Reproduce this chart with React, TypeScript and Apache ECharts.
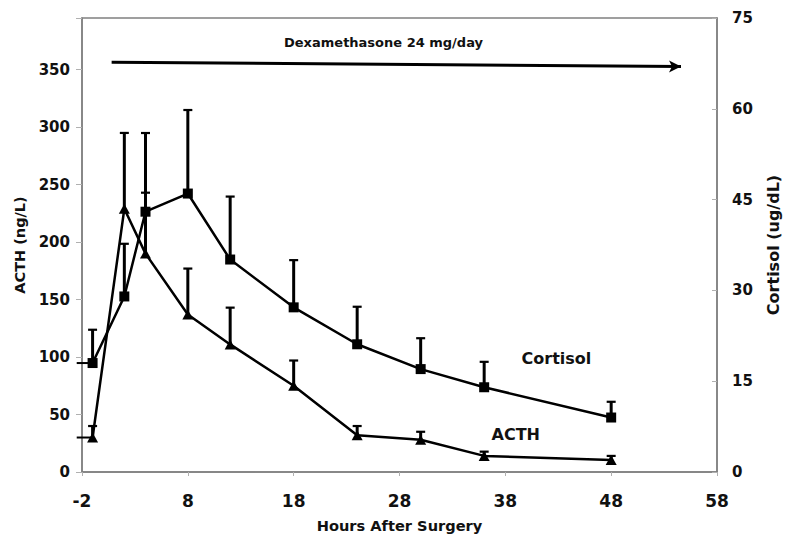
import React, { useEffect, useRef } from "react";
import * as echarts from "echarts";

const hours = [-1, 2, 4, 8, 12, 18, 24, 30, 36, 48];
const acth = [30, 229, 190, 137, 111, 75, 32, 28, 14, 10.5];
const acthUpper = [40, 295, 243, 177, 143, 97, 40, 35, 17.7, 14];
const cortisol = [18, 29, 43, 46, 35.1, 27.2, 21.1, 17, 14, 9];
const cortisolUpper = [23.5, 37.7, 56, 59.8, 45.5, 35, 27.3, 22.1, 18.2, 11.6];
// leftward horizontal segment drawn from the baseline point (hours)
const acthLead = [1.5, 0, 0, 0, 0, 0, 0, 0, 0, 0];
const cortisolLead = [1.5, 0, 0, 0, 0, 0, 0, 0, 0, 0];

const xTicks = { min: -2, max: 58, interval: 10 };
const leftTicks = { min: 0, max: 395, interval: 50 };
const rightTicks = { min: 0, max: 75, interval: 15 };
const arrowStart = [0.8, 356.5];
const arrowEnd = [54.6, 352.8];

const FONT = "DejaVu Sans";

function errRender(params: any, api: any) {
  const x = api.value(0);
  const v = api.value(1);
  const top = api.value(2);
  const lead = api.value(3);
  const p = api.coord([x, v]);
  const t = api.coord([x, top]);
  const children: any[] = [
    { type: "line", shape: { x1: p[0], y1: p[1], x2: t[0], y2: t[1] }, style: { stroke: "#000", lineWidth: 3 } },
    { type: "line", shape: { x1: t[0] - 4.5, y1: t[1], x2: t[0] + 4.5, y2: t[1] }, style: { stroke: "#000", lineWidth: 2.2 } },
  ];
  if (lead) {
    const l = api.coord([x - lead, v]);
    children.push({ type: "line", shape: { x1: l[0], y1: l[1], x2: p[0], y2: p[1] }, style: { stroke: "#000", lineWidth: 2 } });
  }
  return { type: "group", children };
}

export default function App() {
  const ref = useRef<HTMLDivElement>(null);
  useEffect(() => {
    document.body.style.margin = "0";
    const chart = echarts.init(ref.current!, null, { renderer: "svg" });
    const axisLine = { show: true, onZero: false, lineStyle: { color: "#808080", width: 1.5 } };
    const tick = { show: true, length: 5, lineStyle: { color: "#b0b0b0", width: 1 } };
    chart.setOption({
      animation: false,
      backgroundColor: "#fff",
      title: {
        text: "Dexamethasone 24 mg/day",
        left: 284,
        top: 36,
        padding: 0,
        textStyle: { fontFamily: FONT, fontWeight: "bold", fontSize: 13, color: "#111" },
      },
      grid: { left: 82, right: 77, top: 18, bottom: 69, show: true, borderColor: "#808080", borderWidth: 1.5 },
      xAxis: {
        type: "value",
        ...xTicks,
        name: "Hours After Surgery",
        nameLocation: "middle",
        nameGap: 46,
        nameTextStyle: { fontFamily: FONT, fontWeight: "bold", fontSize: 14.6, color: "#111" },
        axisLine,
        axisTick: { ...tick, length: 4 },
        splitLine: { show: false },
        axisLabel: { fontFamily: FONT, fontWeight: "bold", fontSize: 17, color: "#111", margin: 20 },
      },
      yAxis: [
        {
          type: "value",
          ...leftTicks,
          name: "ACTH (ng/L)",
          nameLocation: "middle",
          nameRotate: 90,
          nameGap: 52,
          nameTextStyle: { fontFamily: FONT, fontWeight: "bold", fontSize: 14.5, color: "#111" },
          axisLine,
          axisTick: { ...tick, length: 6 },
          splitLine: { show: false },
          axisLabel: {
            fontFamily: FONT,
            fontWeight: "bold",
            fontSize: 15,
            color: "#111",
            margin: 12,
            formatter: (v: number) => (v % 50 === 0 ? String(v) : ""),
          },
        },
        {
          type: "value",
          position: "right",
          ...rightTicks,
          name: "Cortisol (ug/dL)",
          nameLocation: "middle",
          nameRotate: 90,
          nameGap: 48,
          nameTextStyle: { fontFamily: FONT, fontWeight: "bold", fontSize: 16, color: "#111" },
          axisLine,
          axisTick: { ...tick, inside: true, length: 5 },
          splitLine: { show: false },
          axisLabel: { fontFamily: FONT, fontWeight: "bold", fontSize: 15, color: "#111", margin: 15 },
        },
      ],
      graphic: [
        {
          type: "text",
          x: 521.5,
          y: 358.5,
          style: { text: "Cortisol", fontFamily: FONT, fontWeight: "bold", fontSize: 16, fill: "#111", verticalAlign: "middle" },
        },
        {
          type: "text",
          x: 491.5,
          y: 434,
          style: { text: "ACTH", fontFamily: FONT, fontWeight: "bold", fontSize: 16, fill: "#111", verticalAlign: "middle" },
        },
      ],
      series: [
        {
          type: "custom",
          name: "ACTH err",
          yAxisIndex: 0,
          clip: false,
          z: 1,
          renderItem: errRender,
          encode: { x: 0, y: 1 },
          data: hours.map((h, i) => [h, acth[i], acthUpper[i], acthLead[i]]),
        },
        {
          type: "custom",
          name: "Cortisol err",
          yAxisIndex: 1,
          clip: false,
          z: 1,
          renderItem: errRender,
          encode: { x: 0, y: 1 },
          data: hours.map((h, i) => [h, cortisol[i], cortisolUpper[i], cortisolLead[i]]),
        },
        {
          type: "line",
          name: "ACTH",
          yAxisIndex: 0,
          z: 3,
          symbol: "triangle",
          symbolSize: [11, 10],
          itemStyle: { color: "#000" },
          lineStyle: { color: "#000", width: 2.5 },
          data: hours.map((h, i) => [h, acth[i]]),
          markLine: {
            silent: true,
            symbol: ["none", "arrow"],
            symbolSize: [9, 12],
            lineStyle: { color: "#000", width: 3, type: "solid" },
            label: { show: false },
            data: [[{ coord: arrowStart }, { coord: arrowEnd }]],
          },
        },
        {
          type: "line",
          name: "Cortisol",
          yAxisIndex: 1,
          z: 3,
          symbol: "rect",
          symbolSize: 10,
          itemStyle: { color: "#000" },
          lineStyle: { color: "#000", width: 2.5 },
          data: hours.map((h, i) => [h, cortisol[i]]),
        },
      ],
    });
    return () => chart.dispose();
  }, []);
  return <div ref={ref} style={{ width: 794, height: 541 }} />;
}
